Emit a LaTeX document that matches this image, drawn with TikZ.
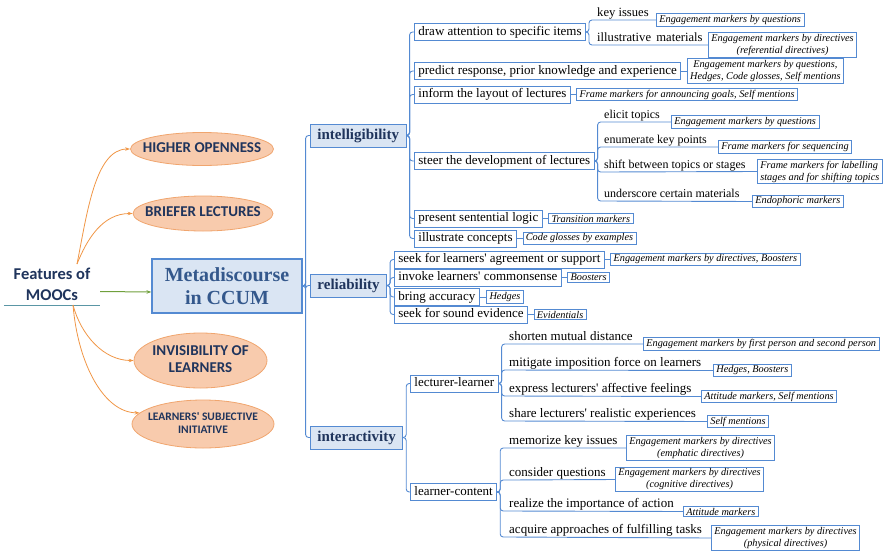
\documentclass[tikz,border=0pt]{standalone}
\usepackage{fontspec}
\setmainfont{Liberation Serif}[Ligatures=TeXOff]
\newfontfamily\calibfont{Carlito}[Ligatures=TeXOff]
\usetikzlibrary{positioning, shapes.geometric, arrows.meta}

\definecolor{mapblue}{RGB}{84,138,210}
\definecolor{topicfill}{RGB}{218,229,243}
\definecolor{navy}{RGB}{31,52,92}
\definecolor{metablue}{RGB}{52,88,140}
\definecolor{peach}{RGB}{248,203,173}
\definecolor{peachline}{RGB}{240,165,110}
\definecolor{curve}{RGB}{240,150,70}
\definecolor{growgreen}{RGB}{112,160,60}
\definecolor{rulecol}{RGB}{90,150,165}

\newcommand{\featxt}[1]{\makebox[0pt]{\begin{tabular}{@{}c@{}}#1\end{tabular}}}

\tikzset{
  conn/.style={draw=mapblue, line width=0.9pt, rounded corners=3pt},
  topic/.style={draw=mapblue, line width=0.9pt, fill=topicfill, text=navy,
    font=\bfseries\fontsize{15}{17}\selectfont, inner xsep=7pt, minimum height=23pt, anchor=west},
  item/.style={draw=mapblue, line width=0.8pt, fill=white, font=\fontsize{13}{15}\selectfont,
    text height=9.5pt, text depth=3pt, inner xsep=4pt, inner ysep=1pt, minimum height=17pt, anchor=west},
  leaf/.style={font=\fontsize{13}{15}\selectfont, text height=9.5pt, text depth=2pt,
    inner xsep=1pt, inner ysep=1.5pt, anchor=south west},
  leafsm/.style={leaf, font=\fontsize{12}{14}\selectfont},
  marker/.style={draw=mapblue, line width=0.7pt, fill=white, font=\itshape\fontsize{10.3}{12}\selectfont,
    inner xsep=3pt, inner ysep=1.5pt, align=center, anchor=west},
  feature/.style={ellipse, draw=peachline, fill=peach, line width=0.8pt, inner sep=0pt, text=navy,
    font=\calibfont\bfseries\fontsize{15}{17}\selectfont},
  spread/.style={draw=curve, line width=0.8pt, -{Stealth[length=5pt,width=3.5pt]}},
  toward/.style={draw=growgreen, line width=1pt, -{Stealth[length=5pt,width=3.5pt]}},
}

\begin{document}
\begin{tikzpicture}[x=1pt, y=-1pt]
\useasboundingbox (0,0) rectangle (885,554);

% left side: features of MOOCs
\node[font=\calibfont\bfseries\fontsize{16.5}{21}\selectfont, text=navy, align=center,
  minimum width=96pt, inner ysep=4pt, anchor=south] (feat) at (52,305) {Features of\\MOOCs};
\draw[rulecol, line width=1pt] (feat.south west) -- (feat.south east);

\node[feature, minimum width=143pt, minimum height=33pt] (higher) at (202,149) {\featxt{HIGHER OPENNESS}};
\node[feature, minimum width=140pt, minimum height=35pt] (briefer) at (203,213.5) {\featxt{BRIEFER LECTURES}};
\node[feature, minimum width=133pt, minimum height=55pt] (invis) at (200.5,360.5) {\featxt{INVISIBILITY OF\\LEARNERS}};
\node[feature, minimum width=142pt, minimum height=48pt, font=\calibfont\bfseries\fontsize{11.5}{13}\selectfont]
  (subjective) at (203,424) {\featxt{LEARNERS' SUBJECTIVE\\INITIATIVE}};

\draw[spread] ([xshift=25pt]feat.north) .. controls +(10,-50) and +(-35,0) .. (higher.west);
\draw[spread] ([xshift=25pt]feat.north) .. controls +(10,-25) and +(-30,0) .. (briefer.west);
\draw[spread] ([xshift=21pt]feat.south) .. controls +(8,30) and +(-30,0) .. (invis.west);
\draw[spread] ([xshift=21pt]feat.south) .. controls +(5,60) and +(-35,0) .. (subjective.170);

% central topic
\node[draw=mapblue, line width=1.2pt, fill=topicfill, text=metablue, font=\bfseries\fontsize{20}{23}\selectfont,
  align=center, minimum width=150pt, minimum height=54pt] (meta) at (227,286) {Metadiscourse\\in CCUM};
\draw[toward] ([yshift=-7pt]feat.east) -- ([yshift=-6pt]meta.west);

\node[topic] (intel) at (310,135.5) {intelligibility};
\node[topic] (relia) at (310,285.5) {reliability};
\node[topic] (inter) at (310,437.5) {interactivity};
\foreach \kid in {intel,relia,inter}
  \draw[conn] (meta.east) -- ++(3,0) |- (\kid.west);

% intelligibility
\node[item] (attn) at (414,32) {draw attention to specific items};
\node[item] (predict) at (414,71) {predict response, prior knowledge and experience};
\node[item] (layout) at (414,94.5) {inform the layout of lectures};
\node[item] (steer) at (414,161) {steer the development of lectures};
\node[item] (logic) at (414,218.5) {present sentential logic};
\node[item] (concept) at (414,238.5) {illustrate concepts};
\foreach \kid in {attn,predict,layout,steer,logic,concept}
  \draw[conn] (intel.east) -- ++(3,0) |- (\kid.west);

\node[marker, right=5.5pt of predict] (predict-m) {Engagement markers by questions,\\Hedges, Code glosses, Self mentions};
\node[marker, right=5.5pt of layout] (layout-m) {Frame markers for announcing goals, Self mentions};
\node[marker, right=5.5pt of logic] (logic-m) {Transition markers};
\node[marker, right=5.5pt of concept] (concept-m) {Code glosses by examples};
\foreach \kid in {predict,layout,logic,concept}
  \draw[conn] (\kid.east) -- (\kid-m.west);

\node[leaf, font=\fontsize{12.6}{14}\selectfont] (keyiss) at (596,20) {key issues};
\node[leaf, font=\fontsize{12.6}{14}\selectfont] (illus) at (596,45) {illustrative\ \,materials};
\node[marker] (keyiss-m) at (656,20) {Engagement markers by questions};
\node[marker] (illus-m) at (708,45) {Engagement markers by directives\\(referential directives)};
\foreach \kid in {keyiss,illus}
  \draw[conn] (attn.east) -- ++(3,0) |- (\kid.south west) -- (\kid-m.west);

\node[leafsm] (elicit) at (603,122) {elicit topics};
\node[leafsm] (enum) at (603,147) {enumerate key points};
\node[leafsm] (shift) at (603,172) {shift between topics or stages};
\node[leafsm] (under) at (603,201) {underscore certain materials};
\node[marker] (elicit-m) at (671,122) {Engagement markers by questions};
\node[marker] (enum-m) at (718,147) {Frame markers for sequencing};
\node[marker, align=left] (shift-m) at (757,171.5) {Frame markers for labelling\\stages and for shifting topics};
\node[marker] (under-m) at (752,201.5) {Endophoric markers};
\foreach \kid in {elicit,enum,shift,under}
  \draw[conn] (steer.east) -- ++(3,0) |- (\kid.south west) -- (\kid-m.west);

% reliability
\node[item] (seek) at (394,259.5) {seek for learners' agreement or support};
\node[item] (invoke) at (394,277.5) {invoke learners' commonsense};
\node[item] (accur) at (394,297) {bring accuracy};
\node[item] (evid) at (394,314.5) {seek for sound evidence};
\foreach \kid in {seek,invoke,accur,evid}
  \draw[conn] (relia.east) -- ++(3,0) |- (\kid.west);

\node[marker, right=5.5pt of seek] (seek-m) {Engagement markers by directives, Boosters};
\node[marker, right=5.5pt of invoke] (invoke-m) {Boosters};
\node[marker, right=6.5pt of accur] (accur-m) {Hedges};
\node[marker, right=5.5pt of evid] (evid-m) {Evidentials};
\foreach \kid in {seek,invoke,accur,evid}
  \draw[conn] (\kid.east) -- (\kid-m.west);

% interactivity
\node[item] (lectl) at (410,383.5) {lecturer-learner};
\node[item] (learnc) at (410,492) {learner-content};
\foreach \kid in {lectl,learnc}
  \draw[conn] (inter.east) -- ++(3,0) |- (\kid.west);

\node[leaf] (shorten) at (508,344) {shorten mutual distance};
\node[leaf] (mitig) at (508,370) {mitigate imposition force on learners};
\node[leaf] (express) at (508,396) {express lecturers' affective feelings};
\node[leaf] (share) at (508,421) {share lecturers' realistic experiences};
\node[marker] (shorten-m) at (643,344) {Engagement markers by first person and second person};
\node[marker] (mitig-m) at (713,370.5) {Hedges, Boosters};
\node[marker] (express-m) at (701,396.5) {Attitude markers, Self mentions};
\node[marker] (share-m) at (707,421.5) {Self mentions};
\foreach \kid in {shorten,mitig,express,share}
  \draw[conn] (lectl.east) -- ++(3,0) |- (\kid.south west) -- (\kid-m.west);

\node[leaf] (memo) at (508,448) {memorize key issues};
\node[leaf] (consid) at (508,480) {consider questions};
\node[leaf] (realize) at (508,511) {realize the importance of action};
\node[leaf] (acquire) at (508,537) {acquire approaches of fulfilling tasks};
\node[marker] (memo-m) at (626,448) {Engagement markers by directives\\(emphatic directives)};
\node[marker] (consid-m) at (615,479.5) {Engagement markers by directives\\(cognitive directives)};
\node[marker] (realize-m) at (683,511.5) {Attitude markers};
\node[marker] (acquire-m) at (711,538) {Engagement markers by directives\\(physical directives)};
\foreach \kid in {memo,consid,realize,acquire}
  \draw[conn] (learnc.east) -- ++(3,0) |- (\kid.south west) -- (\kid-m.west);
\end{tikzpicture}
\end{document}
